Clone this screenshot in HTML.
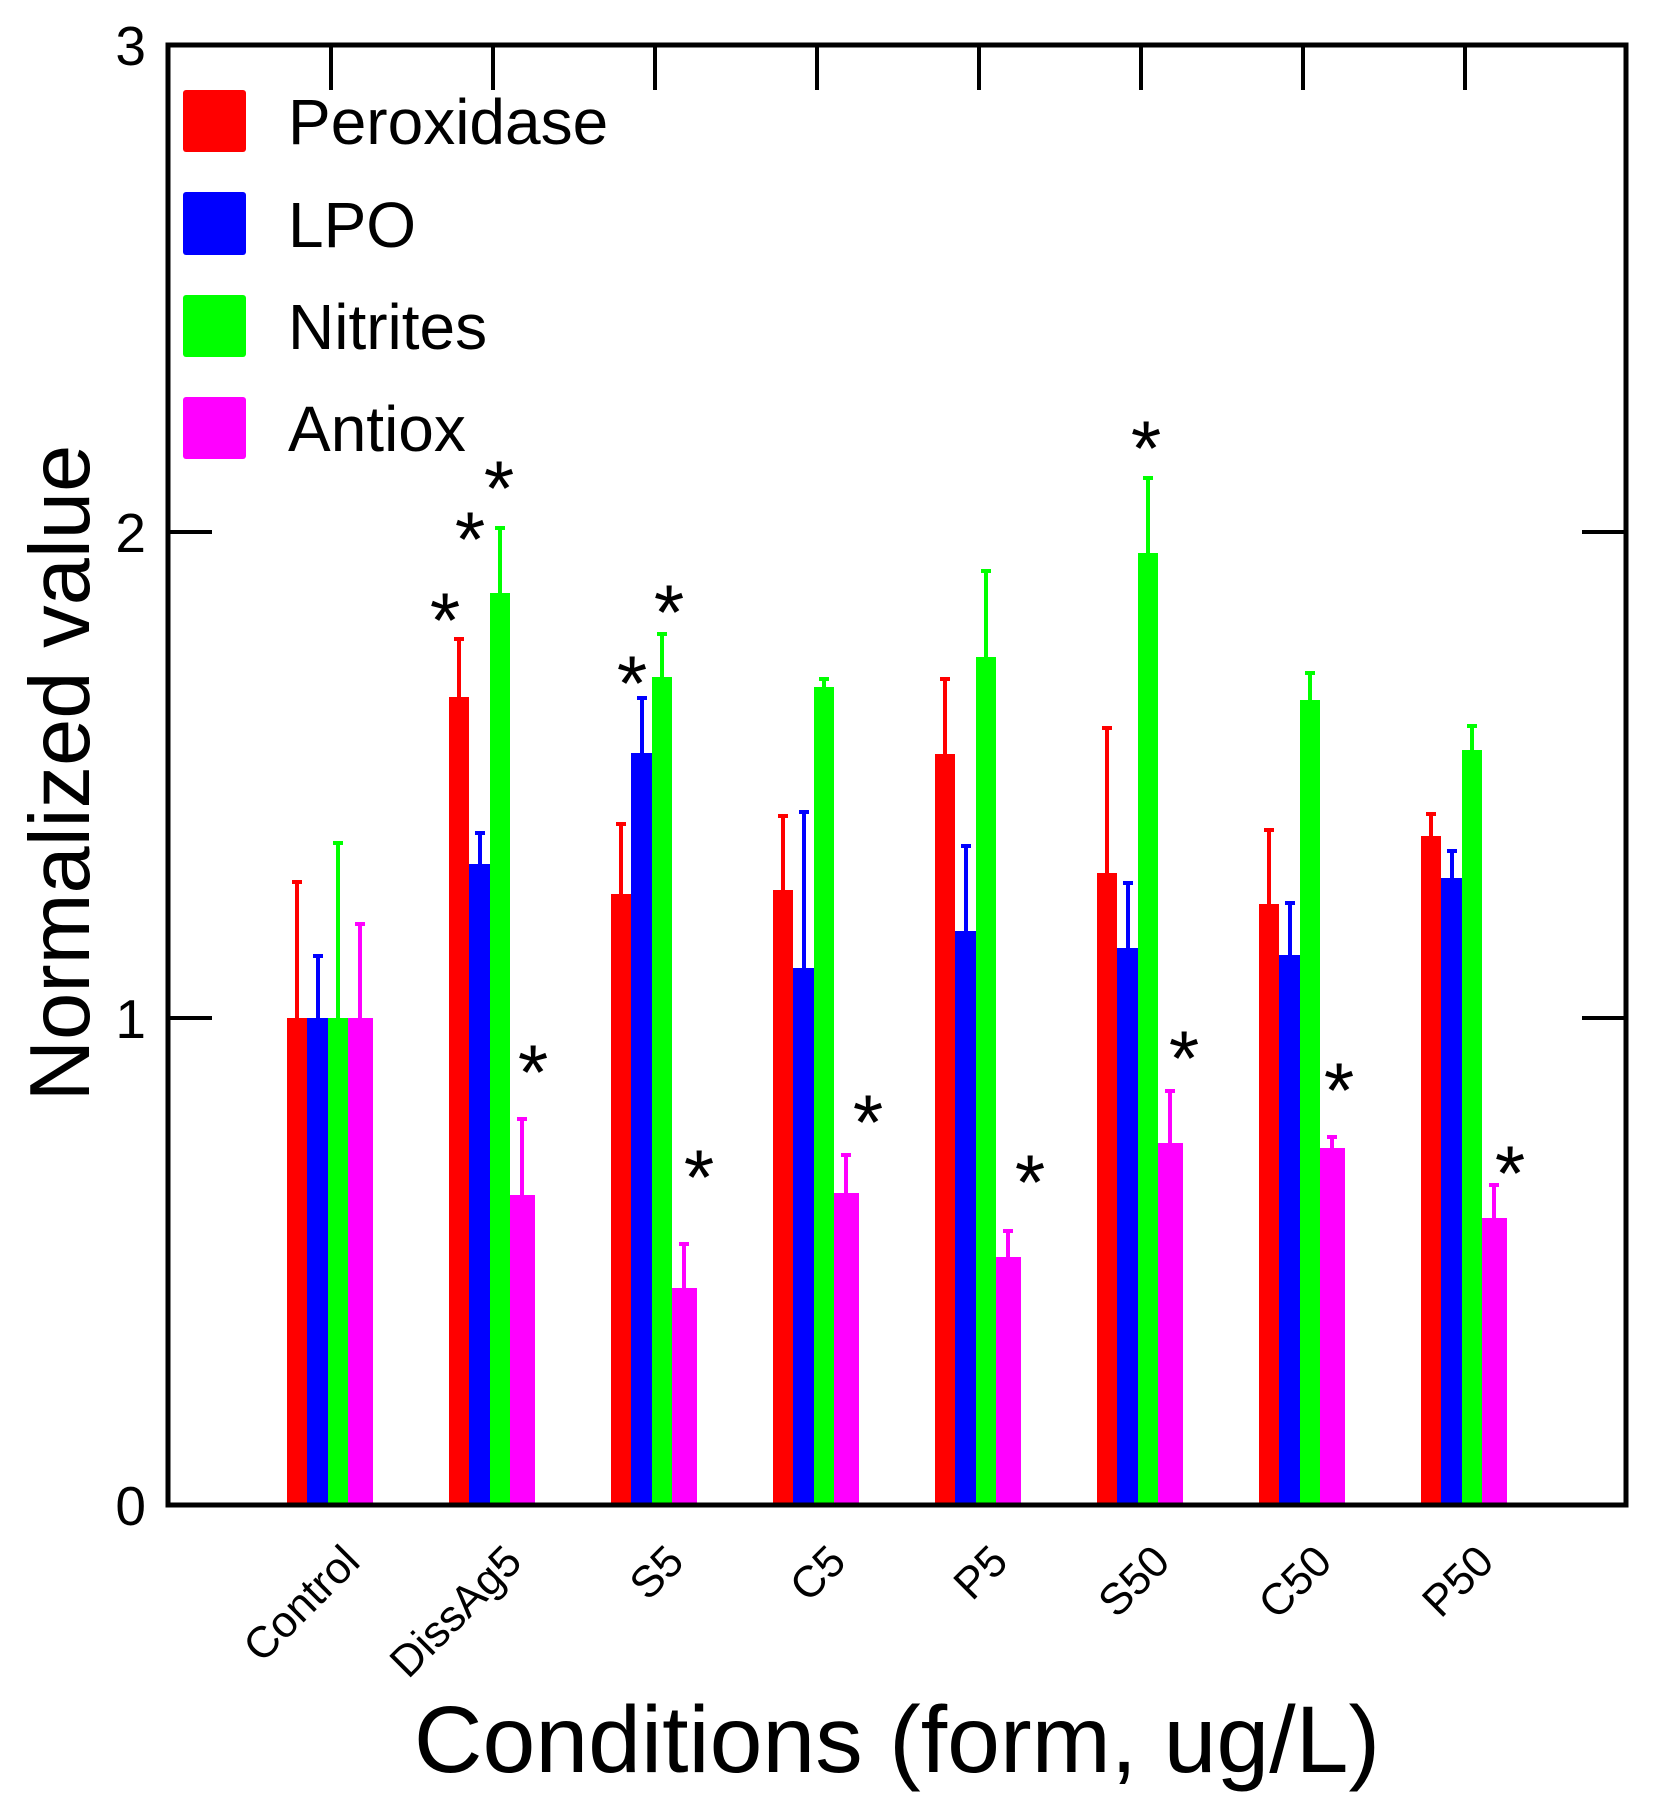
<!DOCTYPE html>
<html><head><meta charset="utf-8"><style>
html,body{margin:0;padding:0;background:#fff;}
svg{display:block;font-family:"Liberation Sans",Arial,sans-serif;}
</style></head><body>
<svg width="1661" height="1809" viewBox="0 0 1661 1809" xmlns="http://www.w3.org/2000/svg">
<rect width="1661" height="1809" fill="#fff"/>
<g id="bars">
<rect x="287" y="1018" width="20" height="487" fill="#f00"/><rect x="307" y="1018" width="21" height="487" fill="#00f"/><rect x="328" y="1018" width="20" height="487" fill="#0f0"/><rect x="348" y="1018" width="25" height="487" fill="#f0f"/>
<rect x="449" y="697" width="20" height="808" fill="#f00"/><rect x="469" y="864" width="21" height="641" fill="#00f"/><rect x="490" y="593" width="20" height="912" fill="#0f0"/><rect x="510" y="1195" width="25" height="310" fill="#f0f"/>
<rect x="611" y="894" width="20" height="611" fill="#f00"/><rect x="631" y="753" width="21" height="752" fill="#00f"/><rect x="652" y="677" width="20" height="828" fill="#0f0"/><rect x="672" y="1288" width="25" height="217" fill="#f0f"/>
<rect x="773" y="890" width="20" height="615" fill="#f00"/><rect x="793" y="968" width="21" height="537" fill="#00f"/><rect x="814" y="687" width="20" height="818" fill="#0f0"/><rect x="834" y="1193" width="25" height="312" fill="#f0f"/>
<rect x="935" y="754" width="20" height="751" fill="#f00"/><rect x="955" y="931" width="21" height="574" fill="#00f"/><rect x="976" y="657" width="20" height="848" fill="#0f0"/><rect x="996" y="1257" width="25" height="248" fill="#f0f"/>
<rect x="1097" y="873" width="20" height="632" fill="#f00"/><rect x="1117" y="948" width="21" height="557" fill="#00f"/><rect x="1138" y="553" width="20" height="952" fill="#0f0"/><rect x="1158" y="1143" width="25" height="362" fill="#f0f"/>
<rect x="1259" y="904" width="20" height="601" fill="#f00"/><rect x="1279" y="955" width="21" height="550" fill="#00f"/><rect x="1300" y="700" width="20" height="805" fill="#0f0"/><rect x="1320" y="1148" width="25" height="357" fill="#f0f"/>
<rect x="1421" y="836" width="20" height="669" fill="#f00"/><rect x="1441" y="878" width="21" height="627" fill="#00f"/><rect x="1462" y="750" width="20" height="755" fill="#0f0"/><rect x="1482" y="1218" width="25" height="287" fill="#f0f"/>
</g>
<g stroke-width="4">
<g stroke="#f00">
<path d="M297 1018V882M292 882h10"/><path d="M459 697V639M454 639h10"/><path d="M621 894V824M616 824h10"/><path d="M783 890V816M778 816h10"/><path d="M945 754V679M940 679h10"/><path d="M1107 873V728M1102 728h10"/><path d="M1269 904V830M1264 830h10"/><path d="M1431 836V814M1426 814h10"/>
</g>
<g stroke="#00f">
<path d="M318 1018V956M313 956h10"/><path d="M480 864V833M475 833h10"/><path d="M642 753V698M637 698h10"/><path d="M804 968V812M799 812h10"/><path d="M966 931V846M961 846h10"/><path d="M1128 948V883M1123 883h10"/><path d="M1290 955V903M1285 903h10"/><path d="M1452 878V851M1447 851h10"/>
</g>
<g stroke="#0f0">
<path d="M338 1018V843M333 843h10"/><path d="M500 593V528M495 528h10"/><path d="M662 677V634M657 634h10"/><path d="M824 687V679M819 679h10"/><path d="M986 657V571M981 571h10"/><path d="M1148 553V478M1143 478h10"/><path d="M1310 700V673M1305 673h10"/><path d="M1472 750V726M1467 726h10"/>
</g>
<g stroke="#f0f">
<path d="M360 1018V924M355 924h10"/><path d="M522 1195V1119M517 1119h10"/><path d="M684 1288V1244M679 1244h10"/><path d="M846 1193V1155M841 1155h10"/><path d="M1008 1257V1231M1003 1231h10"/><path d="M1170 1143V1091M1165 1091h10"/><path d="M1332 1148V1137M1327 1137h10"/><path d="M1494 1218V1185M1489 1185h10"/>
</g>
</g>
<rect x="168" y="45" width="1458" height="1460" fill="none" stroke="#000" stroke-width="5"/>
<g stroke="#000" stroke-width="4">
<path d="M168 1018h44M168 532h44M1626 1018h-44M1626 532h-44"/>
<path d="M331 45v45M493 45v45M655 45v45M817 45v45M979 45v45M1141 45v45M1303 45v45M1465 45v45"/>
</g>
<g font-size="55" text-anchor="end" fill="#000">
<text x="146" y="65">3</text>
<text x="146" y="552">2</text>
<text x="146" y="1038">1</text>
<text x="146" y="1525">0</text>
</g>
<rect x="183" y="90" width="63" height="62" rx="3" fill="#f00"/>
<rect x="183" y="192" width="63" height="63" rx="3" fill="#00f"/>
<rect x="183" y="295" width="63" height="62" rx="3" fill="#0f0"/>
<rect x="183" y="397" width="63" height="62" rx="3" fill="#f0f"/>
<g font-size="64" fill="#000">
<text x="288" y="144">Peroxidase</text>
<text x="288" y="247">LPO</text>
<text x="288" y="349">Nitrites</text>
<text x="288" y="451">Antiox</text>
</g>
<g font-size="78" text-anchor="middle" fill="#000">
<text x="445" y="647">*</text>
<text x="470" y="566">*</text>
<text x="499" y="515">*</text>
<text x="533" y="1099">*</text>
<text x="632" y="710">*</text>
<text x="669" y="639">*</text>
<text x="699" y="1204">*</text>
<text x="868" y="1149">*</text>
<text x="1030" y="1209">*</text>
<text x="1146" y="475">*</text>
<text x="1184" y="1085">*</text>
<text x="1339" y="1117">*</text>
<text x="1510" y="1200">*</text>
</g>
<g font-size="44" text-anchor="end" fill="#000">
<text transform="translate(362,1564) rotate(-45)">Control</text>
<text transform="translate(524,1564) rotate(-45)">DissAg5</text>
<text transform="translate(686,1564) rotate(-45)">S5</text>
<text transform="translate(848,1564) rotate(-45)">C5</text>
<text transform="translate(1010,1564) rotate(-45)">P5</text>
<text transform="translate(1172,1564) rotate(-45)">S50</text>
<text transform="translate(1334,1564) rotate(-45)">C50</text>
<text transform="translate(1496,1564) rotate(-45)">P50</text>
</g>
<text x="897" y="1772" font-size="95" text-anchor="middle" fill="#000">Conditions (form, ug/L)</text>
<text transform="translate(89,773) rotate(-90)" font-size="85" text-anchor="middle" fill="#000">Normalized value</text>
</svg>
</body></html>
